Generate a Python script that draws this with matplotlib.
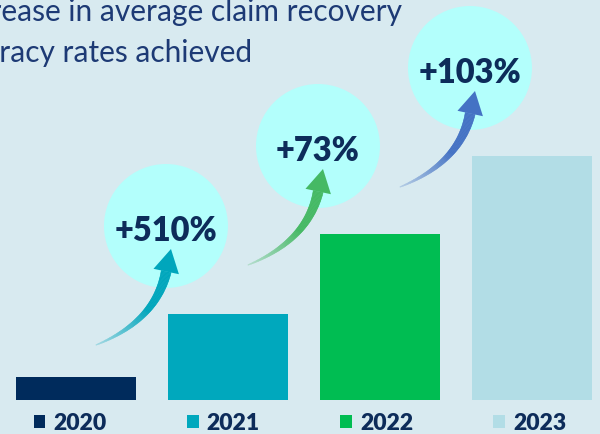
import numpy as np
import matplotlib
matplotlib.use("Agg")
import matplotlib.pyplot as plt
from matplotlib.patches import Circle, Polygon
from matplotlib.collections import PolyCollection
from matplotlib.colors import to_rgb

# --- data ---
years = ["2020", "2021", "2022", "2023"]
values = [23, 86, 166, 244]          # bar heights
growth_labels = ["+510%", "+73%", "+103%"]
bar_colors = ["#002b5c", "#00a8bd", "#00bd52", "#b2dde6"]
arrow_colors = ["#00a6bc", "#45b964", "#4472c4"]
title_line1 = "Increase in average claim recovery"
title_line2 = "accuracy rates achieved"

BG = "#d8eaf0"
BUBBLE = "#b3fffc"
NAVY = "#0d2c5a"
TITLE_COLOR = "#1d3a75"
FONT = ["Lato", "DejaVu Sans"]

W, H = 600, 435
fig = plt.figure(figsize=(W / 100, H / 100), dpi=100, facecolor=BG)

# bar axes: one x unit = 152 px, one y unit = 1 px
pitch, bar_w = 152.0, 120.0
x0 = 75.5
ax = fig.add_axes([0, 34 / H, 1, 401 / H])
ax.set_facecolor("none")
ax.set_xlim(-x0 / pitch, (W - x0) / pitch)
ax.set_ylim(0, 401)
ax.axis("off")
xs = np.arange(len(years))
bars = ax.bar(xs, values, width=bar_w / pitch, color=bar_colors, label=years)

# overlay axes in pixel units for bubbles and arrows
ov = fig.add_axes([0, 0, 1, 1])
ov.set_xlim(0, W)
ov.set_ylim(0, H)
ov.set_facecolor("none")
ov.axis("off")


def to_px(x, y):
    return ax.transData.transform((x, y))


def draw_arrow(tail, tip, color, head_len=23, head_w=26, shaft_w=10,
               start_ang=22, end_ang=78):
    tail = np.asarray(tail, float)
    tip = np.asarray(tip, float)
    d = np.array([np.cos(np.radians(end_ang)), np.sin(np.radians(end_ang))])
    end = tip - head_len * d
    s = np.array([np.cos(np.radians(start_ang)), np.sin(np.radians(start_ang))])
    # control point = where the two end tangents meet
    A = np.column_stack([s, d])
    t1, _ = np.linalg.solve(A, end - tail)
    ctrl = tail + t1 * s
    t = np.linspace(0, 1, 80)
    pts = ((1 - t) ** 2)[:, None] * tail + (2 * (1 - t) * t)[:, None] * ctrl + (t ** 2)[:, None] * end
    der = (2 * (1 - t))[:, None] * (ctrl - tail) + (2 * t)[:, None] * (end - ctrl)
    der /= np.linalg.norm(der, axis=1)[:, None]
    nrm = np.column_stack([-der[:, 1], der[:, 0]])
    w = shaft_w * (0.05 + 0.95 * t ** 0.9) / 2
    left = pts + nrm * w[:, None]
    right = pts - nrm * w[:, None]
    c_full = np.array(to_rgb(color))
    c_bg = np.array(to_rgb(BG))
    quads, cols = [], []
    for i in range(len(t) - 1):
        quads.append([left[i], left[i + 1], right[i + 1], right[i]])
        f = min(1.0, 0.25 + 0.75 * (t[i] / 0.55))
        cols.append(c_bg + (c_full - c_bg) * f)
    ov.add_collection(PolyCollection(quads, facecolors=cols, edgecolors=cols,
                                     linewidths=0.4, zorder=4))
    p = np.array([-d[1], d[0]])
    head = Polygon([tip, end + p * head_w / 2, end - p * head_w / 2],
                   closed=True, color=color, lw=0, zorder=5)
    ov.add_patch(head)


radius = 62
for i in range(1, len(years)):
    cx, cy = to_px(xs[i] - bar_w / pitch / 2 - 0.01, values[i] + 88)
    ov.add_patch(Circle((cx, cy), radius, color=BUBBLE, lw=0, zorder=2))
    ov.text(cx, cy - 1, growth_labels[i - 1], ha="center", va="center_baseline",
            fontsize=23.5, fontweight="heavy", color=NAVY, family=FONT, zorder=6)
    draw_arrow((cx - 70, cy - 119), (cx + 5, cy - 23), arrow_colors[i - 1])

# title, partly cut off at the left edge as in the picture
renderer = fig.canvas.get_renderer()
tkw = dict(fontsize=21.5, color=TITLE_COLOR, family=FONT, va="baseline")


def prefix_width(s):
    tmp = ov.text(0, 0, s, **tkw)
    w = tmp.get_window_extent(renderer).width
    tmp.remove()
    return w


ov.text(1 - prefix_width("Incr"), H - 21, title_line1, **tkw)
ov.text(-1 - prefix_width("accu"), H - 62, title_line2, **tkw)

# legend
leg = ov.legend(handles=list(bars), labels=years, ncol=4, loc="center",
                bbox_to_anchor=(0.5, 11 / H), frameon=False, borderpad=0,
                handlelength=0.52, handleheight=0.52, handletextpad=0.35,
                columnspacing=3.5,
                prop={"family": FONT, "weight": "heavy", "size": 16.5})
for txt in leg.get_texts():
    txt.set_color(NAVY)

fig.savefig("out.png", dpi=100, facecolor=BG)
